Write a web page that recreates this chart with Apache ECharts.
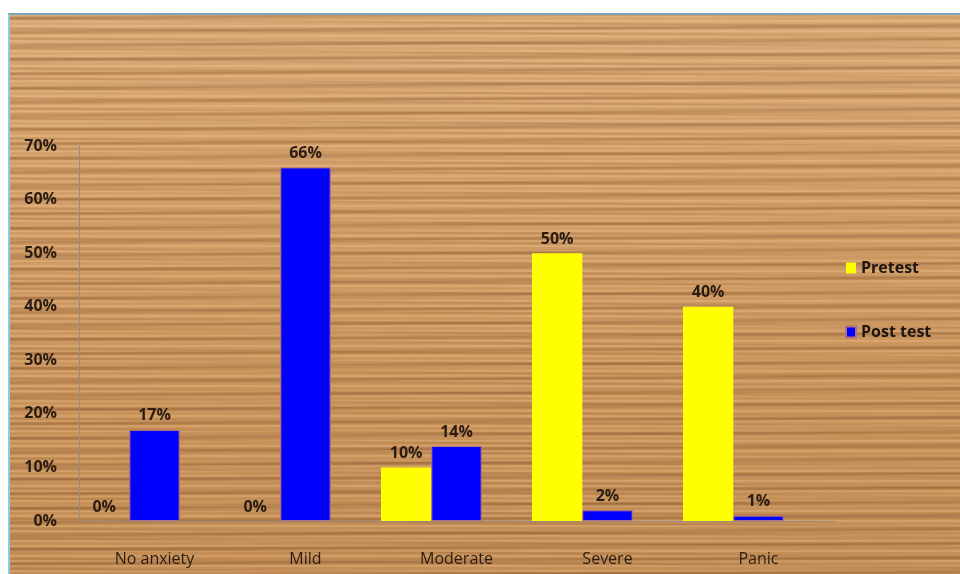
<!DOCTYPE html>
<html>
<head>
<meta charset="utf-8">
<script src="https://cdn.jsdelivr.net/npm/echarts@6/dist/echarts.min.js"></script>
<style>
  html, body { margin: 0; padding: 0; background: #fff; }
  #wrap { position: relative; width: 960px; height: 574px; overflow: hidden; }
  #wood {
    position: absolute; left: 8px; top: 13px; right: 0; bottom: 0;
    border-left: 2px solid #8ccbe0; border-top: 2px solid #7aa6bd;
    background-color: #cd965d;
    background-image:
      repeating-linear-gradient(179.6deg, rgba(105,55,20,0) 0px, rgba(105,55,20,0.3) 3px, rgba(105,55,20,0) 6px, rgba(105,55,20,0) 14px),
      repeating-linear-gradient(180.5deg, rgba(120,70,30,0) 0px, rgba(120,70,30,0.18) 2px, rgba(120,70,30,0) 4px, rgba(120,70,30,0) 10px),
      repeating-linear-gradient(180deg, rgba(255,225,185,0.2) 0 2px, rgba(255,225,185,0) 2px 5px),
      linear-gradient(180deg, #d9a872 0%, #d29d66 35%, #c99359 70%, #c48d55 100%);
  }
  #chart { position: absolute; left: 0; top: 0; width: 960px; height: 574px; }
</style>
</head>
<body>
<div id="wrap">
  <div id="wood"></div>
  <div id="chart"></div>
</div>
<script>
const categories = ['No anxiety', 'Mild', 'Moderate', 'Severe', 'Panic'];
const pretest = [0, 0, 10, 50, 40];
const postTest = [17, 66, 14, 2, 1];
const emptySeries = [null, null, null, null, null];

const chart = echarts.init(document.getElementById('chart'));
const font = 'Open Sans';

const labelStyle = {
  show: true,
  position: 'top',
  distance: 6,
  formatter: '{c}%',
  color: '#2a1c12',
  fontWeight: 'bold',
  fontSize: 16,
  fontFamily: font
};

const option = {
  backgroundColor: 'transparent',
  animation: false,
  textStyle: { fontFamily: font },
  grid: { left: 79, right: 126, top: 146, bottom: 53, containLabel: false },
  legend: {
    data: ['Pretest', 'Post test'],
    orient: 'vertical',
    left: 840,
    top: 255,
    itemGap: 48,
    itemWidth: 10,
    itemHeight: 11,
    icon: 'rect',
    textStyle: { color: '#1e1410', fontWeight: 'bold', fontSize: 16, fontFamily: font }
  },
  xAxis: {
    type: 'category',
    data: categories,
    axisLine: { lineStyle: { color: '#9a8a80', width: 1 } },
    axisTick: { show: false },
    axisLabel: { color: '#2a1c12', fontSize: 16, margin: 30, fontFamily: font }
  },
  yAxis: {
    type: 'value',
    min: 0,
    max: 70,
    interval: 10,
    axisLine: { show: true, lineStyle: { color: '#9a8a80', width: 1 } },
    axisTick: { show: false },
    splitLine: { show: false },
    axisLabel: { formatter: '{value}%', color: '#2a1c12', fontWeight: 'bold', fontSize: 16, margin: 22, fontFamily: font }
  },
  series: [
    {
      name: 'Pretest',
      type: 'bar',
      data: pretest,
      barGap: '0%',
      barCategoryGap: '0%',
      itemStyle: { color: '#ffff00' },
      label: labelStyle
    },
    {
      name: 'Post test',
      type: 'bar',
      data: postTest,
      barGap: '0%',
      barCategoryGap: '0%',
      itemStyle: { color: '#0000ff', borderColor: '#b07080', borderWidth: 1 },
      label: labelStyle
    },
    {
      name: 'blank',
      type: 'bar',
      data: emptySeries,
      barGap: '0%',
      barCategoryGap: '0%'
    }
  ]
};

chart.setOption(option);
</script>
</body>
</html>
